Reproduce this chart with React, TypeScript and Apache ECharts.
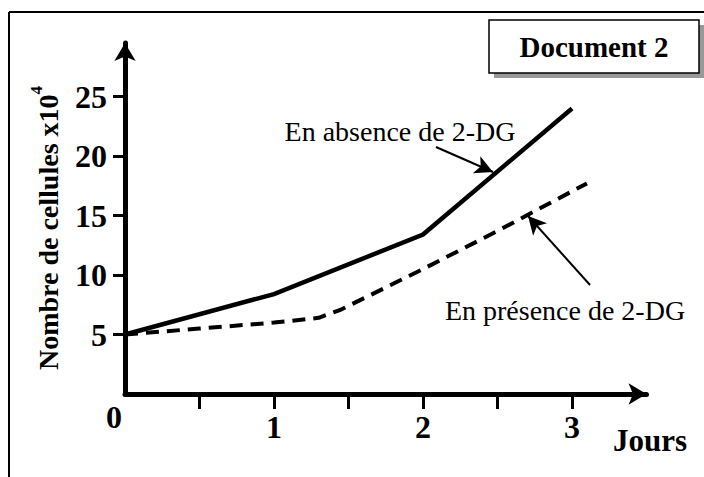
import React, { useEffect, useRef } from "react";
import * as echarts from "echarts";

const dayTicks = [0.5, 1, 1.5, 2, 2.5, 3];
const dayLabels = [1, 2, 3];
const countTicks = [5, 10, 15, 20, 25];

const absenceData: [number, number][] = [
  [0, 5],
  [1, 8.4],
  [2, 13.4],
  [3, 24],
];
const presenceData: [number, number][] = [
  [0, 5],
  [0.5, 5.5],
  [1, 6.0],
  [1.3, 6.4],
  [1.45, 7.1],
  [2, 10.5],
  [2.5, 13.7],
  [3.1, 17.7],
];

const arrowAbsence: [number, number][] = [
  [2.087, 20.76],
  [2.47, 18.66],
];
const arrowPresence: [number, number][] = [
  [3.121, 9.16],
  [2.705, 14.96],
];

const FONT = "'Liberation Serif', 'Times New Roman', serif";

export default function App() {
  const ref = useRef<HTMLDivElement>(null);
  useEffect(() => {
    if (!ref.current) return;
    const chart = echarts.init(ref.current, null, { renderer: "svg" });
    const arrowLine = (pts: [number, number][]) => ({
      silent: true,
      animation: false,
      symbol: ["none", "arrow"],
      symbolSize: [14, 18],
      label: { show: false },
      lineStyle: { color: "#000", width: 2, type: "solid" },
      emphasis: { disabled: true },
      data: [[{ coord: pts[0] }, { coord: pts[1] }]],
    });
    chart.setOption({
      animation: false,
      backgroundColor: "#fff",
      grid: { left: 125, right: 57.5, top: 43, bottom: 83, outerBoundsMode: "none" },
      xAxis: {
        type: "value",
        min: 0,
        max: 3.5,
        interval: 0.5,
        splitLine: { show: false },
        axisLine: {
          show: true,
          onZero: false,
          symbol: ["none", "arrow"],
          symbolSize: [16, 18],
          symbolOffset: [0, 0],
          lineStyle: { color: "#000", width: 5 },
        },
        axisTick: {
          show: true,
          length: 15,
          customValues: dayTicks,
          lineStyle: { color: "#000", width: 3 },
        },
        axisLabel: {
          show: true,
          customValues: dayLabels,
          margin: 17,
          color: "#000",
          fontFamily: FONT,
          fontWeight: "bold",
          fontSize: 32,
          formatter: (v: number) => String(v),
        },
      },
      yAxis: {
        type: "value",
        min: 0,
        max: 29.5,
        interval: 5,
        splitLine: { show: false },
        axisLine: {
          show: true,
          onZero: false,
          symbol: ["none", "arrow"],
          symbolSize: [16, 18],
          lineStyle: { color: "#000", width: 5 },
        },
        axisTick: {
          show: true,
          length: 12,
          customValues: countTicks,
          lineStyle: { color: "#000", width: 3 },
        },
        axisLabel: {
          show: true,
          customValues: countTicks,
          margin: 18,
          color: "#000",
          fontFamily: FONT,
          fontWeight: "bold",
          fontSize: 32,
          formatter: (v: number) => String(v),
        },
      },
      series: [
        {
          type: "line",
          name: "En absence de 2-DG",
          data: absenceData,
          showSymbol: false,
          symbol: "none",
          lineStyle: { color: "#000", width: 4.5, type: "solid", join: "miter" },
          markLine: arrowLine(arrowAbsence),
          z: 3,
        },
        {
          type: "line",
          name: "En présence de 2-DG",
          data: presenceData,
          showSymbol: false,
          symbol: "none",
          lineStyle: { color: "#000", width: 4, type: [13, 8] },
          markLine: arrowLine(arrowPresence),
          z: 3,
        },
      ],
      graphic: [
        { type: "line", shape: { x1: 9, y1: 12, x2: 704, y2: 12 }, style: { stroke: "#000", lineWidth: 2 } },
        { type: "line", shape: { x1: 9, y1: 12, x2: 9, y2: 477 }, style: { stroke: "#000", lineWidth: 2 } },
        { type: "rect", shape: { x: 494, y: 25, width: 210, height: 53 }, style: { fill: "#999" } },
        {
          type: "rect",
          shape: { x: 489, y: 20, width: 210, height: 53 },
          style: { fill: "#fff", stroke: "#000", lineWidth: 1.5 },
        },
        {
          type: "text",
          x: 594,
          y: 47,
          style: {
            text: "Document 2",
            font: `bold 29px ${FONT}`,
            fill: "#000",
            align: "center",
            verticalAlign: "middle",
          },
        },
        {
          type: "text",
          x: 400,
          y: 131,
          style: {
            text: "En absence de 2-DG",
            font: `28px ${FONT}`,
            fill: "#000",
            align: "center",
            verticalAlign: "middle",
          },
        },
        {
          type: "text",
          x: 565,
          y: 310,
          style: {
            text: "En présence de 2-DG",
            font: `28px ${FONT}`,
            fill: "#000",
            align: "center",
            verticalAlign: "middle",
          },
        },
        {
          type: "text",
          x: 650,
          y: 440,
          style: {
            text: "Jours",
            font: `bold 31px ${FONT}`,
            fill: "#000",
            align: "center",
            verticalAlign: "middle",
          },
        },
        {
          type: "text",
          x: 114,
          y: 417,
          style: {
            text: "0",
            font: `bold 32px ${FONT}`,
            fill: "#000",
            align: "center",
            verticalAlign: "middle",
          },
        },
        {
          type: "text",
          x: 45,
          y: 228,
          rotation: Math.PI / 2,
          style: {
            text: "{a|Nombre de cellules x10}{b|4}",
            align: "center",
            verticalAlign: "middle",
            rich: {
              a: { font: `bold 28px ${FONT}`, fill: "#000", verticalAlign: "bottom", lineHeight: 34 },
              b: { font: `bold 17px ${FONT}`, fill: "#000", verticalAlign: "top", lineHeight: 34 },
            },
          },
        },
      ],
    });
    return () => chart.dispose();
  }, []);
  return (
    <div
      ref={ref}
      style={{ position: "fixed", left: 0, top: 0, width: 704, height: 477 }}
    />
  );
}
